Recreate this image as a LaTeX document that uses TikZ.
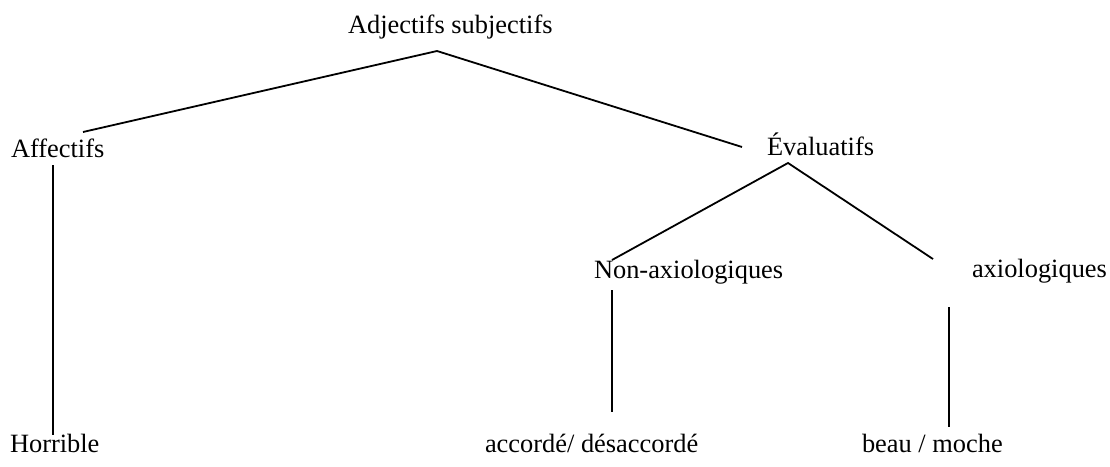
\documentclass[tikz,border=0pt]{standalone}
\usepackage{fontspec}
\setmainfont{Liberation Serif}
\begin{document}
\begin{tikzpicture}[x=1pt,y=-1pt,
  lbl/.style={anchor=base west,inner sep=0pt,outer sep=0pt,font=\fontsize{26.4}{30}\selectfont},
  link/.style={line width=1.8pt}]
\useasboundingbox (0,0) rectangle (1110,466);
\node[lbl] (top) at (348,33) {Adjectifs subjectifs};
\node[lbl] (aff) at (11,157) {Affectifs};
\node[lbl] (eval) at (767,155) {Évaluatifs};
\node[lbl] (nonax) at (594,278) {Non-axiologiques};
\node[lbl] (ax) at (972,277) {axiologiques};
\node[lbl] (horr) at (10,452) {Horrible};
\node[lbl] (acc) at (485,452) {accordé/ désaccordé};
\node[lbl] (beau) at (862,452) {beau / moche};
\coordinate (topA) at (437,51);
\coordinate (affU) at (83,132);
\coordinate (evalU) at (742,147);
\coordinate (affD) at (53,165);
\coordinate (horrU) at (53,435);
\coordinate (evalD) at (788,163);
\coordinate (nonaxU) at (612,260);
\coordinate (axU) at (933,259);
\coordinate (nonaxD) at (612,290);
\coordinate (accU) at (612,412);
\coordinate (axD) at (949,307);
\coordinate (beauU) at (949,427);
\draw[link] (affU) -- (topA) -- (evalU);
\draw[link] (affD) -- (horrU);
\draw[link] (nonaxU) -- (evalD) -- (axU);
\draw[link] (nonaxD) -- (accU);
\draw[link] (axD) -- (beauU);
\end{tikzpicture}
\end{document}
